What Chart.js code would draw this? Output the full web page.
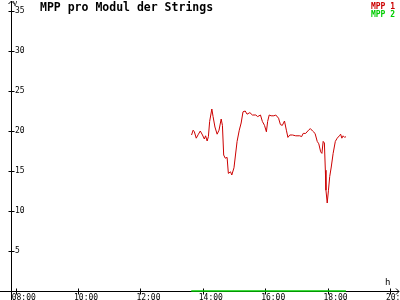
<!DOCTYPE html>
<html lang="de">
<head>
<meta charset="utf-8" />
<title>MPP pro Modul der Strings</title>
<script src="https://cdn.jsdelivr.net/npm/chart.js@4.4.1/dist/chart.umd.min.js"></script>
<style>
  html, body { margin: 0; padding: 0; background: #fff; }
  #wrap { width: 400px; height: 300px; }
</style>
</head>
<body>
<div id="wrap"><canvas id="c" width="400" height="300"></canvas></div>
<script>
// Zeit in Stunden (dezimal), Werte in V
const mpp1Times = [13.64, 13.69, 13.73, 13.79, 13.86, 13.92, 13.99, 14.05, 14.09, 14.14, 14.18, 14.22, 14.29, 14.33, 14.39, 14.46, 14.52, 14.59, 14.63, 14.67, 14.72, 14.78, 14.82, 14.89, 14.93, 15.00, 15.10, 15.17, 15.23, 15.29, 15.36, 15.42, 15.51, 15.59, 15.70, 15.76, 15.85, 15.91, 15.98, 16.04, 16.08, 16.13, 16.19, 16.28, 16.34, 16.43, 16.49, 16.55, 16.62, 16.68, 16.73, 16.79, 16.88, 16.98, 17.11, 17.17, 17.22, 17.30, 17.39, 17.45, 17.52, 17.60, 17.67, 17.72, 17.78, 17.82, 17.86, 17.90, 17.93, 17.95, 17.99, 18.03, 18.07, 18.12, 18.18, 18.25, 18.31, 18.38, 18.42, 18.46, 18.50, 18.55, 18.59];
const mpp1Values = [19.5, 20.1, 19.9, 19.1, 19.6, 20.0, 19.5, 19.0, 19.4, 18.75, 19.3, 21.2, 22.75, 21.8, 20.5, 19.6, 20.1, 21.5, 20.7, 17.0, 16.6, 16.7, 14.7, 14.9, 14.5, 15.4, 18.7, 20.1, 21.0, 22.4, 22.5, 22.1, 22.3, 22.0, 22.0, 21.8, 22.0, 21.2, 20.7, 19.9, 21.2, 22.0, 21.9, 21.9, 22.0, 21.6, 20.8, 20.7, 21.25, 20.1, 19.2, 19.5, 19.5, 19.4, 19.4, 19.3, 19.7, 19.7, 20.1, 20.3, 20.0, 19.7, 18.7, 18.4, 17.4, 17.2, 18.7, 18.5, 15.1, 12.6, 11.0, 12.6, 14.3, 15.5, 17.2, 18.7, 19.1, 19.4, 19.6, 19.1, 19.4, 19.2, 19.3];
const mpp2Times = [13.63, 18.59];
const mpp2Values = [0, 0];

const hourTicks = [8, 10, 12, 14, 16, 18, 20];
const voltTicks = [5, 10, 15, 20, 25, 30, 35];

const FONT = "'DejaVu Sans Mono', monospace";

function pts(t, v) {
  return t.map((x, i) => ({ x, y: v[i] }));
}

// Achsen mit Pfeilen und Kreuz-Ticks (wie im Original)
const axesPlugin = {
  id: 'axes',
  beforeDatasetsDraw(chart) {
    const { ctx, chartArea: a, scales } = chart;
    const x0 = Math.round(a.left) + 0.5;
    const y0 = Math.round(a.bottom) + 0.5;
    ctx.save();
    ctx.strokeStyle = '#000';
    ctx.lineWidth = 1;
    ctx.beginPath();
    ctx.moveTo(x0, y0 + 9); ctx.lineTo(x0, 1);
    ctx.moveTo(x0 - 3, 4); ctx.lineTo(x0, 1); ctx.lineTo(x0 + 3, 4);
    ctx.moveTo(0, y0); ctx.lineTo(399, y0);
    ctx.moveTo(396, y0 - 3); ctx.lineTo(399, y0); ctx.lineTo(396, y0 + 3);
    for (const v of voltTicks) {
      const y = Math.round(scales.y.getPixelForValue(v)) + 0.5;
      ctx.moveTo(x0 - 3, y); ctx.lineTo(x0 + 3, y);
    }
    for (const h of hourTicks) {
      const x = Math.round(scales.x.getPixelForValue(h)) + 0.5;
      ctx.moveTo(x, y0 - 3); ctx.lineTo(x, y0 + 3);
    }
    ctx.stroke();

    ctx.fillStyle = '#000';
    ctx.textBaseline = 'alphabetic';
    ctx.textAlign = 'left';
    ctx.font = 'bold 11.5px ' + FONT;
    ctx.fillText('MPP pro Modul der Strings', 40, 11);
    ctx.font = '7px ' + FONT;
    ctx.fillText('V', 13, 6);
    ctx.font = '9px ' + FONT;
    ctx.fillText('h', 385, 285);

    ctx.textAlign = 'right';
    ctx.font = 'bold 8px ' + FONT;
    chart.data.datasets.forEach((ds, i) => {
      ctx.fillStyle = ds.borderColor;
      ctx.fillText(ds.label, 395, 9 + i * 8);
    });
    ctx.restore();
  }
};

new Chart(document.getElementById('c'), {
  type: 'line',
  data: {
    datasets: [
      { label: 'MPP 1', data: pts(mpp1Times, mpp1Values), borderColor: '#cc0000', borderWidth: 1, pointRadius: 0, tension: 0, clip: 6 },
      { label: 'MPP 2', data: pts(mpp2Times, mpp2Values), borderColor: '#00cc00', borderWidth: 1.5, pointRadius: 0, tension: 0, clip: 6 }
    ]
  },
  options: {
    responsive: false,
    animation: false,
    layout: { padding: { left: 11, top: 11, right: 2, bottom: 0 } },
    plugins: { legend: { display: false }, tooltip: { enabled: false } },
    scales: {
      x: {
        type: 'linear',
        min: 7.85,
        max: 20.26,
        grid: { display: false, drawTicks: false },
        border: { display: false },
        afterFit: (s) => { s.height = 9; s.paddingLeft = 0; s.paddingRight = 0; },
        afterBuildTicks: (s) => { s.ticks = hourTicks.map((v) => ({ value: v })); },
        ticks: {
          align: 'start',
          labelOffset: -4,
          padding: 2,
          maxRotation: 0,
          autoSkip: false,
          color: '#000',
          font: { family: FONT, size: 8 },
          callback: (v) => String(v).padStart(2, '0') + ':00'
        }
      },
      y: {
        min: 0,
        max: 35,
        grid: { display: false, drawTicks: false },
        border: { display: false },
        afterFit: (s) => { s.width = 0; s.paddingTop = 0; s.paddingBottom = 0; },
        afterBuildTicks: (s) => { s.ticks = voltTicks.map((v) => ({ value: v })); },
        ticks: {
          mirror: true,
          padding: 4,
          color: '#000',
          font: { family: FONT, size: 8 }
        }
      }
    }
  },
  plugins: [axesPlugin]
});
</script>
</body>
</html>
